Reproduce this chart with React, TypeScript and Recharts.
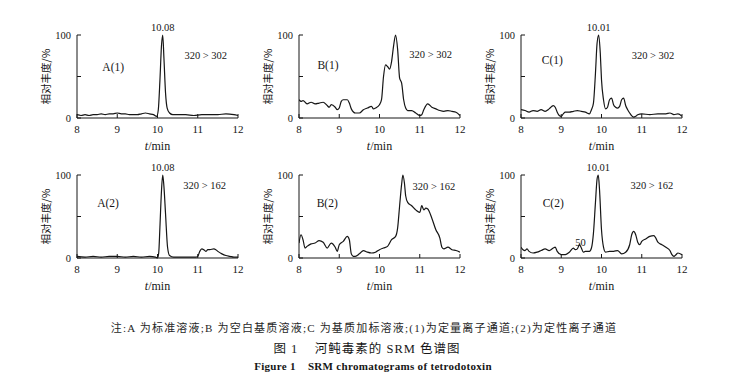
import { Label, Line, LineChart, ReferenceDot, XAxis, YAxis } from "recharts";

const SERIF = '"Liberation Serif", "Times New Roman", "Noto Sans CJK SC", serif';
const CJK = '"Noto Sans CJK SC", sans-serif';
const INK = "#161616";

// axis ticks (min, relative abundance %)
const xTicks = [8, 9, 10, 11, 12];
const yTicks = [0, 50, 100];

// A(1) standard, quant channel 320 > 302
const tA1 = [8.0, 8.1, 8.2, 8.3, 8.4, 8.5, 8.6, 8.7, 8.8, 8.9, 9.0, 9.1, 9.2, 9.3, 9.4, 9.5, 9.6, 9.7, 9.8, 9.9, 9.98, 10.02, 10.06, 10.1, 10.13, 10.16, 10.2, 10.24, 10.3, 10.38, 10.5, 10.7, 10.9, 11.1, 11.3, 11.5, 11.7, 11.9, 12.0];
const yA1 = [4, 3, 4, 3, 4, 4, 5, 4, 5, 5, 6, 5, 5, 4, 4, 4, 5, 6, 5, 4, 2, 10, 45, 88, 100, 72, 30, 12, 6, 4, 4, 4, 3, 4, 4, 4, 5, 4, 3];

// B(1) blank matrix, 320 > 302
const tB1 = [8.0, 8.05, 8.1, 8.2, 8.3, 8.4, 8.5, 8.6, 8.7, 8.75, 8.8, 8.9, 8.95, 9.0, 9.05, 9.1, 9.2, 9.25, 9.3, 9.4, 9.5, 9.6, 9.7, 9.8, 9.85, 9.9, 10.0, 10.05, 10.1, 10.15, 10.2, 10.25, 10.3, 10.35, 10.4, 10.45, 10.5, 10.55, 10.6, 10.65, 10.7, 10.8, 10.9, 11.0, 11.05, 11.1, 11.2, 11.3, 11.4, 11.5, 11.6, 11.7, 11.8, 11.9, 12.0];
const yB1 = [22, 20, 21, 17, 19, 17, 18, 19, 15, 13, 16, 13, 10, 12, 20, 22, 22, 18, 11, 6, 6, 10, 12, 14, 11, 12, 16, 22, 50, 64, 62, 59, 68, 87, 100, 83, 48, 42, 22, 12, 9, 9, 6, 3, 4, 10, 17, 13, 11, 9, 8, 9, 8, 7, 3];

// C(1) spiked matrix, 320 > 302
const tC1 = [8.0, 8.1, 8.2, 8.3, 8.4, 8.5, 8.6, 8.7, 8.8, 8.85, 8.9, 8.95, 9.0, 9.05, 9.1, 9.2, 9.3, 9.4, 9.5, 9.6, 9.7, 9.75, 9.8, 9.85, 9.89, 9.93, 9.97, 10.0, 10.05, 10.1, 10.15, 10.2, 10.25, 10.3, 10.35, 10.4, 10.45, 10.5, 10.55, 10.6, 10.65, 10.7, 10.8, 10.85, 10.9, 11.0, 11.2, 11.4, 11.5, 11.6, 11.7, 11.8, 11.9, 12.0];
const yC1 = [10, 9, 7, 9, 8, 10, 8, 11, 15, 13, 7, 3, 2, 5, 7, 7, 8, 9, 8, 7, 5, 10, 18, 54, 90, 100, 78, 46, 22, 11, 13, 22, 24, 16, 13, 12, 14, 22, 24, 15, 10, 6, 1, 2, 4, 5, 4, 5, 5, 5, 6, 4, 5, 2];

// A(2) standard, qual channel 320 > 162
const tA2 = [8.0, 8.2, 8.4, 8.6, 8.8, 9.0, 9.2, 9.4, 9.6, 9.8, 9.95, 10.0, 10.03, 10.06, 10.1, 10.13, 10.16, 10.2, 10.25, 10.3, 10.4, 10.6, 10.8, 10.95, 11.0, 11.05, 11.1, 11.15, 11.2, 11.25, 11.3, 11.4, 11.45, 11.5, 11.6, 11.7, 11.8, 11.9, 12.0];
const yA2 = [2, 1, 2, 1, 2, 2, 1, 2, 1, 2, 1, 0, 6, 37, 82, 100, 86, 53, 13, 3, 1, 1, 1, 1, 2, 8, 11, 10, 8, 10, 10, 11, 10, 8, 5, 3, 2, 1, 1];

// B(2) blank matrix, 320 > 162
const tB2 = [8.0, 8.05, 8.1, 8.15, 8.2, 8.3, 8.4, 8.5, 8.6, 8.7, 8.8, 8.9, 8.95, 9.0, 9.1, 9.2, 9.25, 9.3, 9.35, 9.4, 9.5, 9.6, 9.7, 9.8, 9.9, 10.0, 10.1, 10.2, 10.3, 10.4, 10.45, 10.5, 10.55, 10.58, 10.62, 10.65, 10.7, 10.8, 10.9, 11.0, 11.05, 11.1, 11.15, 11.2, 11.3, 11.4, 11.5, 11.55, 11.6, 11.7, 11.8, 11.9, 12.0];
const yB2 = [18, 28, 22, 12, 14, 17, 18, 21, 19, 12, 18, 13, 8, 16, 20, 26, 22, 5, 2, 2, 5, 9, 7, 6, 7, 10, 12, 14, 22, 26, 36, 63, 89, 100, 90, 75, 67, 63, 58, 55, 63, 58, 60, 59, 48, 34, 24, 13, 11, 13, 10, 9, 7];

// C(2) spiked matrix, 320 > 162
const tC2 = [8.0, 8.05, 8.1, 8.15, 8.2, 8.3, 8.4, 8.5, 8.6, 8.7, 8.8, 8.85, 8.9, 9.0, 9.1, 9.2, 9.3, 9.35, 9.4, 9.45, 9.5, 9.55, 9.6, 9.7, 9.75, 9.8, 9.85, 9.89, 9.92, 9.95, 10.0, 10.05, 10.1, 10.2, 10.3, 10.4, 10.5, 10.6, 10.7, 10.75, 10.8, 10.85, 10.9, 10.95, 11.0, 11.1, 11.2, 11.3, 11.35, 11.4, 11.5, 11.6, 11.7, 11.75, 11.8, 11.85, 11.9, 12.0];
const yC2 = [13, 10, 9, 11, 8, 6, 7, 9, 11, 9, 12, 13, 8, 4, 4, 7, 12, 10, 11, 16, 12, 7, 8, 8, 12, 30, 67, 95, 100, 83, 34, 13, 7, 8, 8, 9, 5, 7, 16, 28, 32, 28, 19, 16, 20, 23, 26, 27, 24, 19, 16, 13, 9, 4, 2, 4, 6, 4];

type Note = { text: string; x: number; y: number; size?: number };

const panels: { id: string; left: number; top: number; times: number[]; values: number[]; notes: Note[] }[] = [
  {
    id: "A1", left: 77, top: 35, times: tA1, values: yA1,
    notes: [
      { text: "10.08", x: 10.13, y: 109 },
      { text: "A(1)", x: 8.9, y: 61, size: 11.5 },
      { text: "320 > 302", x: 11.2, y: 76 },
    ],
  },
  {
    id: "B1", left: 299, top: 35, times: tB1, values: yB1,
    notes: [
      { text: "B(1)", x: 8.72, y: 64, size: 11.5 },
      { text: "320 > 302", x: 11.27, y: 77 },
    ],
  },
  {
    id: "C1", left: 521, top: 35, times: tC1, values: yC1,
    notes: [
      { text: "10.01", x: 9.93, y: 109 },
      { text: "C(1)", x: 8.78, y: 70, size: 11.5 },
      { text: "320 > 302", x: 11.28, y: 76 },
    ],
  },
  {
    id: "A2", left: 77, top: 175, times: tA2, values: yA2,
    notes: [
      { text: "10.08", x: 10.13, y: 109 },
      { text: "A(2)", x: 8.77, y: 66, size: 11.5 },
      { text: "320 > 162", x: 11.17, y: 88 },
    ],
  },
  {
    id: "B2", left: 299, top: 175, times: tB2, values: yB2,
    notes: [
      { text: "B(2)", x: 8.7, y: 66, size: 11.5 },
      { text: "320 > 162", x: 11.35, y: 87 },
    ],
  },
  {
    id: "C2", left: 521, top: 175, times: tC2, values: yC2,
    notes: [
      { text: "10.01", x: 9.92, y: 109 },
      { text: "C(2)", x: 8.8, y: 66, size: 11.5 },
      { text: "320 > 162", x: 11.25, y: 88 },
      { text: "50", x: 9.48, y: 19 },
    ],
  },
];

const PLOT_W = 161;
const PLOT_H = 83;
const AXIS_W = 64;
const M_TOP = 25;
const M_RIGHT = 15;
const XAXIS_H = 40;

function YTitle(props: any) {
  const vb = props.viewBox || { x: 0, y: M_TOP, width: AXIS_W, height: PLOT_H };
  const cx = vb.x + vb.width - 32;
  const cy = vb.y + vb.height / 2;
  return (
    <text x={cx} y={cy} transform={`rotate(-90 ${cx} ${cy})`} textAnchor="middle" dominantBaseline="central" fontFamily={CJK} fontSize={10.5} fill={INK}>
      相对丰度/%
    </text>
  );
}

function XTitle(props: any) {
  const vb = props.viewBox || { x: AXIS_W, y: M_TOP + PLOT_H, width: PLOT_W, height: XAXIS_H };
  const cx = vb.x + vb.width / 2;
  const cy = vb.y + 28;
  return (
    <text x={cx} y={cy} textAnchor="middle" dominantBaseline="central" fontFamily={SERIF} fontSize={12} fill={INK}>
      <tspan fontStyle="italic">t</tspan>/min
    </text>
  );
}

function Panel({ p }: { p: (typeof panels)[number] }) {
  const data = p.times.map((t, i) => ({ t, v: p.values[i] }));
  return (
    <div style={{ position: "absolute", left: p.left - AXIS_W, top: p.top - M_TOP }}>
      <LineChart
        width={AXIS_W + PLOT_W + M_RIGHT}
        height={M_TOP + PLOT_H + XAXIS_H}
        data={data}
        margin={{ top: M_TOP, right: M_RIGHT, bottom: 0, left: 0 }}
      >
        <XAxis
          dataKey="t"
          type="number"
          domain={[8, 12]}
          ticks={xTicks}
          interval={0}
          allowDataOverflow
          height={XAXIS_H}
          stroke={INK}
          tickSize={-4}
          tickMargin={11}
          tick={{ fontSize: 11, fontFamily: SERIF, fill: INK }}
        >
          <Label content={XTitle} />
        </XAxis>
        <YAxis
          type="number"
          domain={[0, 100]}
          ticks={yTicks}
          interval={0}
          width={AXIS_W}
          stroke={INK}
          tickSize={-4}
          tickMargin={10}
          tickFormatter={(v: number) => (v === 50 ? "" : String(v))}
          tick={{ fontSize: 10.5, fontFamily: SERIF, fill: INK }}
        >
          <Label content={YTitle} />
        </YAxis>
        <Line
          type="monotone"
          dataKey="v"
          stroke={INK}
          strokeWidth={1.2}
          dot={false}
          isAnimationActive={false}
        />
        {p.notes.map((n) => (
          <ReferenceDot
            key={n.text}
            x={n.x}
            y={n.y}
            r={0}
            fill="none"
            stroke="none"
            ifOverflow="visible"
            label={{ value: n.text, position: "center", fontSize: n.size ?? 10.5, fontFamily: SERIF, fill: INK }}
          />
        ))}
      </LineChart>
    </div>
  );
}

const lineStyle = {
  position: "absolute" as const,
  left: 0,
  width: 740,
  textAlign: "center" as const,
  whiteSpace: "pre" as const,
  color: INK,
};

export default function App() {
  return (
    <div style={{ position: "absolute", left: 0, top: 0, width: 740, height: 384, background: "#fff", overflow: "hidden" }}>
      {panels.map((p) => (
        <Panel key={p.id} p={p} />
      ))}
      <div style={{ ...lineStyle, left: -6, top: 320, fontSize: 11, lineHeight: "16px", letterSpacing: 1.2, fontFamily: SERIF, color: "#262626" }}>
        注:A 为标准溶液;B 为空白基质溶液;C 为基质加标溶液;(1)为定量离子通道;(2)为定性离子通道
      </div>
      <div style={{ ...lineStyle, left: -3, top: 340, fontSize: 12.5, lineHeight: "18px", letterSpacing: 1, fontFamily: SERIF }}>
        图 1    河鲀毒素的 SRM 色谱图
      </div>
      <div style={{ ...lineStyle, left: 3, top: 358, fontSize: 11, lineHeight: "16px", letterSpacing: 0.3, fontFamily: SERIF, fontWeight: "bold" }}>
        Figure 1    SRM chromatograms of tetrodotoxin
      </div>
    </div>
  );
}
